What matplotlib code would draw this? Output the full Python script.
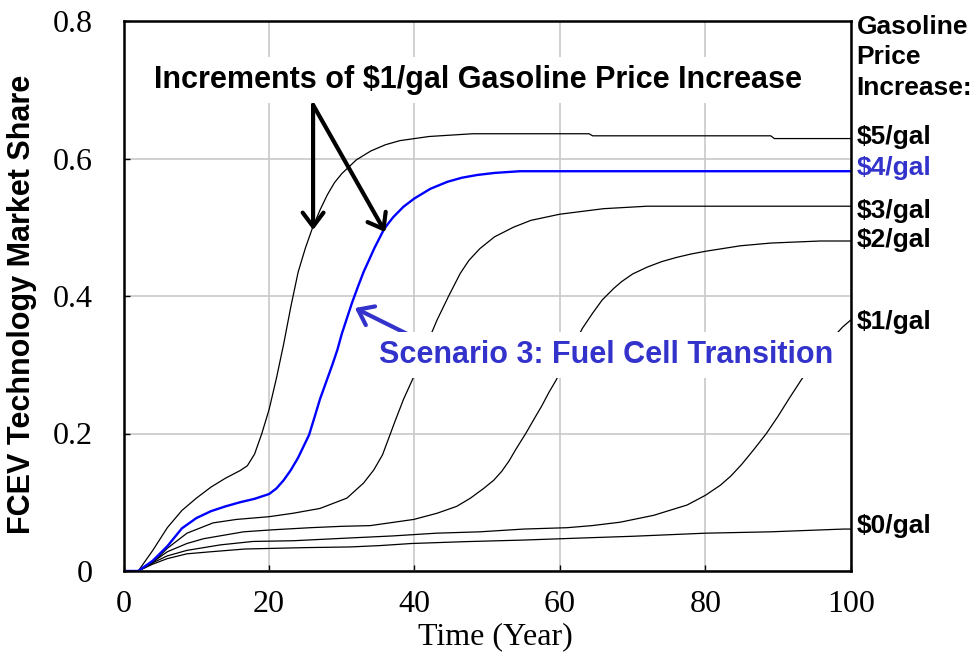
import matplotlib
matplotlib.use("Agg")
import matplotlib.pyplot as plt

# FCEV market share vs time, one curve per gasoline price increase
t0 = [0, 2, 4, 6, 8.7, 12, 16.7, 25, 31.2, 35.3, 39.6, 47, 55, 63, 70, 80, 89, 99, 100]
v0 = [0, 0, 0.01, 0.018, 0.025, 0.028, 0.032, 0.034, 0.035, 0.037, 0.04, 0.0427, 0.045,
      0.048, 0.0505, 0.055, 0.057, 0.061, 0.061]

t1 = [0, 2, 4, 6, 8.7, 11, 13.3, 17.8, 23.3, 31, 37, 43, 49, 55, 61, 64.4, 68.3, 72.9,
      77.5, 80, 82.1, 83.5, 85, 86.7, 88.4, 90, 91.6, 93.2, 95, 96.9, 98.9, 100]
v1 = [0, 0, 0.012, 0.022, 0.03, 0.034, 0.038, 0.043, 0.044, 0.048, 0.051, 0.055, 0.057,
      0.061, 0.063, 0.066, 0.071, 0.081, 0.096, 0.11, 0.125, 0.138, 0.155, 0.177, 0.2,
      0.225, 0.252, 0.278, 0.305, 0.332, 0.355, 0.365]

t2 = [0, 2, 4, 6, 8.7, 11, 16.5, 20.6, 25.7, 30, 33.9, 39.9, 43.1, 45.8, 47.7, 49.5, 50.9,
      52, 53, 54, 55.3, 56.5, 57.5, 58.5, 59.5, 60.5, 61.5, 62.3, 63.1, 64.5, 65.8, 67.4,
      68.5, 70, 72, 74, 76, 78, 80, 84.8, 89, 95.8, 100]
v2 = [0, 0, 0.013, 0.028, 0.04, 0.047, 0.057, 0.06, 0.063, 0.065, 0.066, 0.075, 0.084,
      0.094, 0.106, 0.12, 0.132, 0.145, 0.16, 0.178, 0.2, 0.222, 0.24, 0.26, 0.278, 0.3,
      0.32, 0.337, 0.353, 0.375, 0.394, 0.411, 0.421, 0.432, 0.442, 0.45, 0.456, 0.461,
      0.465, 0.473, 0.477, 0.48, 0.48]

t3 = [0, 2, 4, 6, 8.7, 12.3, 15.5, 20, 23.3, 27, 30.7, 33, 34.4, 35.6, 37.4, 38.5, 40,
      41.5, 43.1, 44.7, 46.3, 47.5, 49, 51, 53.6, 56, 60, 66, 72, 100]
v3 = [0, 0, 0.012, 0.033, 0.055, 0.07, 0.075, 0.079, 0.084, 0.091, 0.106, 0.128, 0.147,
      0.169, 0.22, 0.25, 0.285, 0.325, 0.365, 0.4, 0.433, 0.452, 0.469, 0.486, 0.5, 0.51,
      0.519, 0.527, 0.5306, 0.5306]

t4 = [0, 2, 4, 6, 8, 10, 12, 14, 16, 18, 20, 21, 22, 23, 24, 25.5, 26.2, 27, 28.7, 29.4,
      30, 31.4, 32.2, 33, 34.5, 35.8, 36.5, 37.1, 38.5, 40, 42.2, 44.5, 46.5, 48.6, 51,
      54.5, 100]
v4 = [0, 0, 0.015, 0.036, 0.062, 0.077, 0.087, 0.094, 0.1, 0.105, 0.112, 0.12, 0.132,
      0.147, 0.165, 0.198, 0.222, 0.25, 0.30, 0.322, 0.345, 0.39, 0.413, 0.435, 0.47,
      0.497, 0.507, 0.515, 0.53, 0.542, 0.556, 0.566, 0.572, 0.576, 0.579, 0.5815, 0.5815]

t5 = [0, 2, 4, 6, 8, 10, 12, 14, 16, 17, 18, 19, 20, 21, 22, 23, 24, 25, 26, 27, 28, 29,
      30, 32, 34, 36, 38, 40, 42, 45, 48, 64, 64.5, 89, 89.5, 100]
v5 = [0, 0, 0.03, 0.063, 0.088, 0.106, 0.122, 0.135, 0.146, 0.153, 0.17, 0.2, 0.235,
      0.28, 0.33, 0.385, 0.435, 0.47, 0.5, 0.525, 0.547, 0.565, 0.578, 0.598, 0.611,
      0.62, 0.626, 0.629, 0.632, 0.634, 0.636, 0.636, 0.633, 0.633, 0.629, 0.629]

etiquetas = ["$0/gal", "$1/gal", "$2/gal", "$3/gal", "$4/gal", "$5/gal"]
pos_etiquetas = [0.065, 0.362, 0.481, 0.523, 0.586, 0.631]

azul_linha = "#0000FF"
azul_texto = "#3333CC"
serif = "Liberation Serif"
sans = "Liberation Sans"

fig = plt.figure(figsize=(9.76, 6.56), dpi=100)
ax = fig.add_axes([123.7 / 976, 1 - 571 / 656, 727 / 976, 550 / 656])

# curvas pretas e a azul (cenario 3)
for t, v in [(t0, v0), (t1, v1), (t2, v2), (t3, v3), (t5, v5)]:
    ax.plot(t, v, color="black", lw=0.9, zorder=2)
ax.plot(t4, v4, color=azul_linha, lw=1.7, zorder=2.5)

ax.set_xlim(0, 100)
ax.set_ylim(0, 0.8)
ax.set_xticks([0, 20, 40, 60, 80, 100])
ax.set_yticks([0, 0.2, 0.4, 0.6, 0.8])
ax.set_xticklabels(["0", "20", "40", "60", "80", "100"])
ax.set_yticklabels(["0", "0.2", "0.4", "0.6", "0.8"])
ax.grid(True, color="#C8C8C8", lw=1.2, zorder=0)
ax.set_axisbelow(True)
ax.tick_params(direction="in", length=4, width=1, labelsize=23, pad=14)
ax.tick_params(axis="y", pad=22)
for lab in ax.get_xticklabels() + ax.get_yticklabels():
    lab.set_fontfamily(serif)
for s in ax.spines.values():
    s.set_linewidth(1.8)

ax.set_xlabel("Time (Year)", fontsize=23, fontfamily=serif)
ax.xaxis.set_label_coords(0.511, -0.093)
ax.set_ylabel("FCEV Technology Market Share", fontsize=22, fontweight="bold", fontfamily=sans)
ax.yaxis.set_label_coords(-0.119, 0.485)

# titulo interno com fundo branco
caixa = dict(boxstyle="square,pad=0.25", facecolor="white", edgecolor="none")
ax.text(48.7, 0.714, "Increments of $1/gal Gasoline Price Increase", fontsize=22,
        fontweight="bold", fontfamily=sans, ha="center", va="center", bbox=caixa, zorder=5)

# setas pretas
seta = dict(arrowstyle="->,head_length=0.4,head_width=0.3", lw=3, color="black",
            mutation_scale=25, shrinkA=0, shrinkB=0)
ax.annotate("", xy=(26.05, 0.496), xytext=(26.05, 0.678), arrowprops=seta, zorder=4)
ax.annotate("", xy=(35.97, 0.493), xytext=(26.05, 0.678), arrowprops=seta, zorder=4)

# cenario 3
ax.text(66.3, 0.314, "Scenario 3: Fuel Cell Transition", fontsize=22, fontweight="bold",
        fontfamily=sans, color=azul_texto, ha="center", va="center", bbox=caixa, zorder=5)
seta_azul = dict(arrowstyle="->,head_length=0.4,head_width=0.3", lw=3, color=azul_texto,
                 mutation_scale=25, shrinkA=0, shrinkB=0)
ax.annotate("", xy=(31.8, 0.3825), xytext=(40.1, 0.339), arrowprops=seta_azul, zorder=4)

# rotulos a direita
ax.text(100.8, 0.809, "Gasoline\nPrice\nIncrease:", fontsize=19, fontweight="bold",
        fontfamily=sans, ha="left", va="top", linespacing=1.35, clip_on=False)
for nome, y in zip(etiquetas, pos_etiquetas):
    cor = azul_texto if nome == "$4/gal" else "black"
    ax.text(100.8, y, nome, fontsize=19, fontweight="bold", fontfamily=sans, color=cor,
            ha="left", va="center", clip_on=False)

fig.savefig("out.png", dpi=100)
